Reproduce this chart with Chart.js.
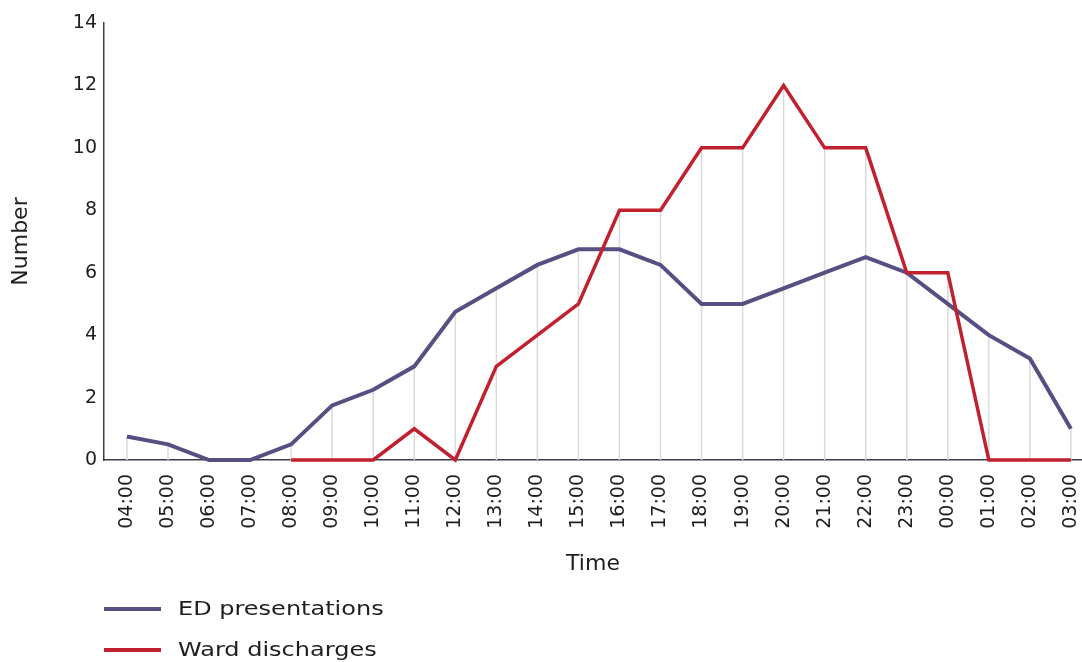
<!DOCTYPE html>
<html>
<head>
<meta charset="utf-8">
<script src="https://cdn.jsdelivr.net/npm/chart.js@4"></script>
<style>
  html, body { margin: 0; padding: 0; background: #ffffff; overflow: hidden; }
  #wrap { width: 1082px; height: 662px; position: relative; }
</style>
</head>
<body>
<div id="wrap"><canvas id="c" width="1082" height="662"></canvas></div>
<script>
// ---- data ----
const times = ['04:00','05:00','06:00','07:00','08:00','09:00','10:00','11:00','12:00','13:00','14:00','15:00',
               '16:00','17:00','18:00','19:00','20:00','21:00','22:00','23:00','00:00','01:00','02:00','03:00'];
const edPresentations = [0.75, 0.5, 0, 0, 0.5, 1.75, 2.25, 3, 4.75, 5.5, 6.25, 6.75,
                         6.75, 6.25, 5, 5, 5.5, 6, 6.5, 6, 5, 4, 3.25, 1];
const wardDischarges = [null, null, null, null, 0, 0, 0, 1, 0, 3, 4, 5,
                        8, 8, 10, 10, 12, 10, 10, 6, 6, 0, 0, 0];
const yTickValues = [0, 2, 4, 6, 8, 10, 12, 14];
const seriesNames = ['ED presentations', 'Ward discharges'];
const xTitle = 'Time';
const yTitle = 'Number';

// ---- styles ----
const BLUE = '#554f82';
const RED = '#c1212f';
const FONT = '"DejaVu Sans", sans-serif';
const TEXT = '#1e1e1e';
const AXIS = '#3c3c48';

const toXY = arr => arr.map((v, i) => ({ x: i, y: v }));

const dropLines = {
  id: 'dropLines',
  beforeDatasetsDraw(chart) {
    const { ctx, scales: { x, y } } = chart;
    ctx.save();
    ctx.strokeStyle = '#dadada';
    ctx.lineWidth = 1.5;
    times.forEach((t, i) => {
      let m = null;
      chart.data.datasets.forEach(ds => {
        const p = ds.data[i];
        if (p && p.y !== null && p.y !== undefined) m = (m === null) ? p.y : Math.max(m, p.y);
      });
      if (m === null || m <= 0) return;
      const px = x.getPixelForValue(i);
      ctx.beginPath();
      ctx.moveTo(px, y.getPixelForValue(0));
      ctx.lineTo(px, y.getPixelForValue(m));
      ctx.stroke();
    });
    ctx.restore();
  }
};

const customLegend = {
  id: 'customLegend',
  afterDraw(chart) {
    const { ctx } = chart;
    const items = [{ label: seriesNames[0], color: BLUE }, { label: seriesNames[1], color: RED }];
    ctx.save();
    items.forEach((it, k) => {
      const yy = 609 + k * 41;
      ctx.strokeStyle = it.color;
      ctx.lineWidth = 4;
      ctx.beginPath();
      ctx.moveTo(104, yy);
      ctx.lineTo(161, yy);
      ctx.stroke();
      ctx.save();
      ctx.translate(178, yy + 1);
      ctx.scale(1.2, 1);
      ctx.font = '20px ' + FONT;
      ctx.fillStyle = TEXT;
      ctx.textBaseline = 'middle';
      ctx.fillText(it.label, 0, 0);
      ctx.restore();
    });
    ctx.restore();
  }
};

new Chart(document.getElementById('c'), {
  type: 'line',
  data: {
    datasets: [
      { label: seriesNames[0], data: toXY(edPresentations), borderColor: BLUE, backgroundColor: BLUE,
        borderWidth: 4, pointRadius: 0, tension: 0, order: 2, clip: false },
      { label: seriesNames[1], data: toXY(wardDischarges), borderColor: RED, backgroundColor: RED,
        borderWidth: 3.5, pointRadius: 0, tension: 0, order: 1, spanGaps: false, clip: false }
    ]
  },
  options: {
    responsive: false,
    animation: false,
    layout: { padding: { top: 23, right: 0, bottom: 82, left: 0 } },
    plugins: { legend: { display: false }, tooltip: { enabled: false } },
    scales: {
      x: {
        type: 'linear',
        min: -0.56,
        max: 23.27,
        grid: { display: false, drawTicks: false },
        border: { display: true, color: AXIS, width: 1.5 },
        ticks: {
          stepSize: 1,
          autoSkip: false,
          minRotation: 90,
          maxRotation: 90,
          padding: 14,
          color: TEXT,
          font: { family: FONT, size: 19 },
          callback: v => (Number.isInteger(v) && times[v] !== undefined) ? times[v] : ''
        },
        afterBuildTicks: s => { s.ticks = times.map((t, i) => ({ value: i })); },
        afterFit: s => { s.height = 120; s.paddingLeft = 0; s.paddingRight = 0; },
        title: { display: true, text: xTitle, color: TEXT, font: { family: FONT, size: 22 }, padding: { top: 4, bottom: 3 } }
      },
      y: {
        min: 0,
        max: 14,
        grid: { display: false, drawTicks: false },
        border: { display: true, color: AXIS, width: 1.5 },
        ticks: { padding: 7, color: TEXT, font: { family: FONT, size: 19 } },
        afterBuildTicks: s => { s.ticks = yTickValues.map(v => ({ value: v })); },
        afterFit: s => { s.width = 104; },
        title: { display: true, text: yTitle, color: TEXT, font: { family: FONT, size: 22 }, padding: { top: 8, bottom: 4 } }
      }
    }
  },
  plugins: [dropLines, customLegend]
});
</script>
</body>
</html>
